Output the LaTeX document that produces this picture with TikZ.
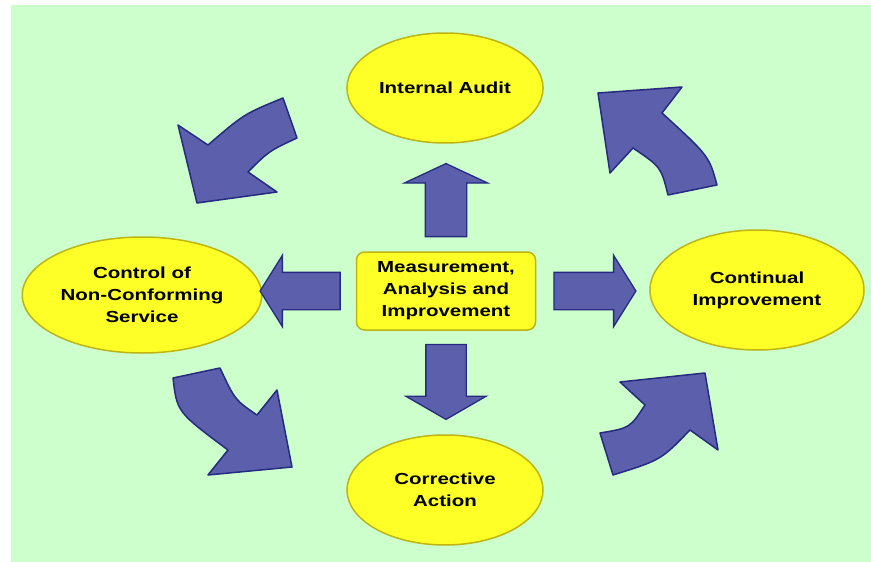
\documentclass[tikz,border=0pt]{standalone}
\usepackage{fontspec}
\usepackage{xcolor}
\usepackage{tikz}
\usetikzlibrary{calc,shapes.geometric,shapes.arrows,positioning}
\newfontfamily\labelfont{Liberation Sans}[FakeStretch=1.28]
\definecolor{meadow}{RGB}{204,255,204}
\definecolor{lemon}{RGB}{255,255,40}
\definecolor{olive}{RGB}{190,180,20}
\definecolor{slate}{RGB}{92,96,172}
\definecolor{navy}{RGB}{38,42,128}
\begin{document}
\begin{tikzpicture}[x=1pt,y=-1pt,
			goal/.style={draw=olive,fill=lemon, ellipse, line width=1.5pt, align=center, font=\labelfont\bfseries\fontsize{16}{22}\selectfont},
			hub/.style={draw=olive,fill=lemon, rectangle, rounded corners=8pt, line width=1.5pt, minimum width=179pt, minimum height=78pt, align=center, font=\labelfont\bfseries\fontsize{16}{22}\selectfont},
			pointer/.style={single arrow, draw=navy, fill=slate, line width=1.3pt, inner xsep=0pt, inner ysep=18pt, single arrow head extend=17pt, single arrow tip angle=116, minimum height=80pt},
			bender/.style={draw=navy, fill=slate, line width=1.5pt, line join=round}
			]
			\useasboundingbox (0,0) rectangle (871,562);
			\fill[white] (0,0) rectangle (871,562);
			\fill[meadow] (11,5) rectangle (871,562);

			\node [hub](mai) at (446,291) {Measurement,\\Analysis and\\Improvement};
			\node [goal, minimum width=196pt, minimum height=110pt](audit) at (445,88) {Internal Audit};
			\node [goal, minimum width=206pt, minimum height=116pt](nonconf) at (142,295) {Control of\\Non-Conforming\\Service};
			\node [goal, minimum width=214pt, minimum height=120pt](improve) at (757,290) {Continual\\Improvement};
			\node [goal, minimum width=196pt, minimum height=110pt](corrective) at (445,490) {Corrective\\Action};

			% straight arrows out of the hub
			\node [pointer, rotate=90, inner ysep=20pt, single arrow head extend=21pt, single arrow tip angle=130, minimum height=73pt, above=14pt of mai.north, anchor=tail](up) {};
			\node [pointer, rotate=180, left=15pt of mai.west, anchor=tail](left) {};
			\node [pointer, minimum height=82pt, right=17pt of mai.east, anchor=tail](right) {};
			\node [pointer, rotate=-90, inner ysep=19.5pt, single arrow head extend=20pt, single arrow tip angle=120, minimum height=75pt, below=13pt of mai.south, anchor=tail](down) {};

			% curved arrows round the cycle
			\draw[bender] (283,98) .. controls (244,114) .. (208,145) -- (178,125) -- (197,203) -- (277,192) -- (248,172) .. controls (269,151) .. (297,138) -- cycle;
			\draw[bender] (717,185) .. controls (709,156) .. (662,113) -- (682,87) -- (598,93) -- (610,173) -- (633,148) .. controls (661,167) .. (668,195) -- cycle;
			\draw[bender] (220,368) .. controls (235,400) .. (257,415) -- (277,390) -- (292,467) -- (208,475) -- (228,450) .. controls (177,412) .. (173,378) -- cycle;
			\draw[bender] (600,433) .. controls (630,428) .. (645,405) -- (620,382) -- (705,373) -- (718,450) -- (690,430) .. controls (661,460) .. (613,475) -- cycle;
		\end{tikzpicture}
\end{document}
